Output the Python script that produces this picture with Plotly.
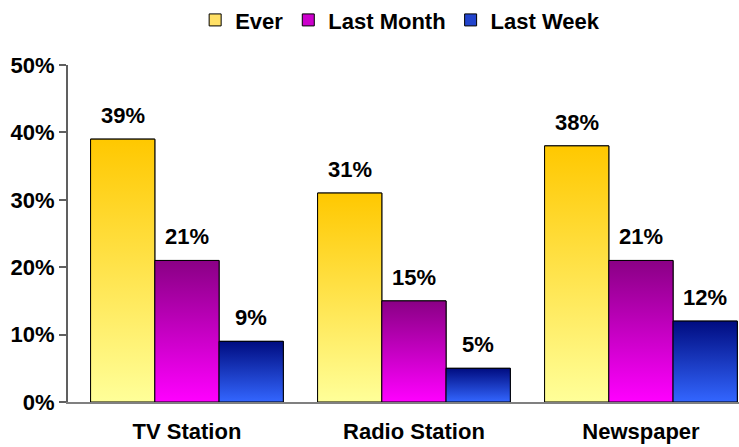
import plotly.graph_objects as go

# Share of respondents who used each outlet, by recency
categories = ["TV Station", "Radio Station", "Newspaper"]
series_names = ["Ever", "Last Month", "Last Week"]
ever = [0.39, 0.31, 0.38]
last_month = [0.21, 0.15, 0.21]
last_week = [0.09, 0.05, 0.12]
y_ticks = [0, 0.1, 0.2, 0.3, 0.4, 0.5]

series_values = [ever, last_month, last_week]
# (top colour, bottom colour, legend swatch colour)
series_colors = [
    ("#FFC800", "#FFFF99", "#FFE066"),
    ("#8A0085", "#FF00FF", "#CC00CC"),
    ("#000C80", "#3366FF", "#2244CC"),
]

bar_w = 0.283
offsets = [-1.5 * bar_w, -0.5 * bar_w, 0.5 * bar_w]
xs = list(range(len(categories)))
FONT = "Liberation Sans, Arial, sans-serif"

fig = go.Figure()

# Base bars: carry the data and the legend swatches
for name, vals, off, (top, bot, mid) in zip(series_names, series_values, offsets, series_colors):
    fig.add_trace(go.Bar(
        x=xs, y=vals, name=name, width=bar_w, offset=off,
        marker=dict(color=mid, line=dict(color="black", width=1)),
        hoverinfo="skip",
    ))

# Gradient fill drawn over each bar, dark at the top and light at the base
for name, vals, off, (top, bot, mid) in zip(series_names, series_values, offsets, series_colors):
    for x, v in zip(xs, vals):
        x0, x1 = x + off, x + off + bar_w
        fig.add_trace(go.Scatter(
            x=[x0, x1, x1, x0, x0], y=[0, 0, v, v, 0],
            mode="lines", fill="toself",
            line=dict(color="black", width=1),
            fillgradient=dict(type="vertical", colorscale=[[0, bot], [1, top]],
                              start=0, stop=v),
            showlegend=False, hoverinfo="skip",
        ))
        fig.add_annotation(
            x=x + off + bar_w / 2, y=v, text=f"{round(v * 100)}%",
            showarrow=False, yanchor="bottom", yshift=9,
            font=dict(family=FONT, size=22, color="black", weight="bold"),
        )

fig.update_layout(
    width=739, height=447,
    margin=dict(l=68, r=0, t=65, b=45, autoexpand=False),
    paper_bgcolor="white", plot_bgcolor="white",
    font=dict(family=FONT, size=22, color="black", weight="bold"),
    barmode="overlay",
    legend=dict(
        orientation="h", x=0.495, xanchor="center",
        yref="container", y=0.955, yanchor="middle",
        font=dict(family=FONT, size=22, color="black", weight="bold"),
        itemwidth=30, traceorder="normal",
    ),
    xaxis=dict(
        range=[-0.524, 2.432], tickmode="array", tickvals=xs, ticktext=categories,
        showgrid=False, zeroline=False, showline=True, linecolor="#808080", linewidth=2,
        ticks="", ticklabelstandoff=9,
        tickfont=dict(family=FONT, size=22, color="black", weight="bold"),
    ),
    yaxis=dict(
        range=[0, 0.5], tickvals=y_ticks, tickformat=".0%",
        showgrid=False, zeroline=False, showline=True, linecolor="#606060", linewidth=2,
        ticks="outside", ticklen=7, tickcolor="#606060", tickwidth=2,
        tickfont=dict(family=FONT, size=22, color="black", weight="bold"),
    ),
)

fig.write_html("out.html")
